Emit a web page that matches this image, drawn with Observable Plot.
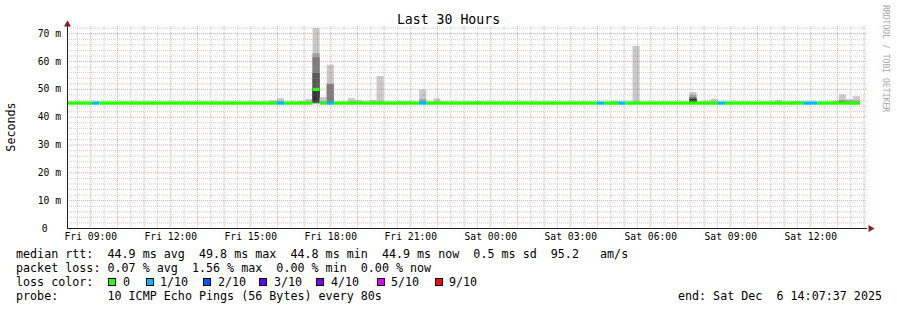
<!DOCTYPE html>
<html>
<head>
<meta charset="utf-8">
<script src="https://cdn.jsdelivr.net/npm/d3@7"></script>
<script src="https://cdn.jsdelivr.net/npm/@observablehq/plot@0.6"></script>
<style>
  html, body { margin: 0; padding: 0; background: #fff; }
  #wrap { position: relative; width: 897px; height: 310px; overflow: hidden;
          font-family: "DejaVu Sans Mono", monospace; color: #000; }
  #chart { position: absolute; left: 0; top: 0; }
  .txt { position: absolute; white-space: pre; font-size: 11.7px; line-height: 14px; }
  #title { position: absolute; left: 0; width: 897px; top: 12px; text-align: center;
           font-size: 13.2px; line-height: 16px; white-space: pre; }
  #ylabel { position: absolute; left: 11px; top: 127px; font-size: 11.7px; line-height: 14px;
            white-space: nowrap; transform: translate(-50%, -50%) rotate(-90deg); }
  #mark { position: absolute; left: 881px; top: 5px; writing-mode: vertical-rl;
          font-size: 8.1px; line-height: 10px; color: #a8a8a8; white-space: nowrap; }
  .box { position: absolute; width: 8px; height: 8px; box-sizing: border-box; border: 1px solid #000; }
</style>
</head>
<body>
<div id="wrap"></div>
<script>
// ---- time window (local chart time written as UTC) ----
const startTime = new Date("2025-12-05T08:07:37Z");
const endTime   = new Date("2025-12-06T14:07:37Z");
const bucketMinutes = 16;
const yTop = 72.6;

// ---- median rtt, as runs of 16-minute buckets: [from, to, median ms, lost pings of 10] ----
const medianSegments = [
  ["2025-12-05T08:00Z", "2025-12-05T09:04Z", 44.9, 0],
  ["2025-12-05T09:04Z", "2025-12-05T09:20Z", 44.9, 1],
  ["2025-12-05T09:20Z", "2025-12-05T16:00Z", 44.9, 0],
  ["2025-12-05T16:00Z", "2025-12-05T16:16Z", 44.9, 1],
  ["2025-12-05T16:16Z", "2025-12-05T17:20Z", 44.9, 0],
  ["2025-12-05T17:20Z", "2025-12-05T17:36Z", 49.8, 0],
  ["2025-12-05T17:36Z", "2025-12-05T17:52Z", 44.9, 0],
  ["2025-12-05T17:52Z", "2025-12-05T18:08Z", 44.9, 1],
  ["2025-12-05T18:08Z", "2025-12-05T21:20Z", 44.9, 0],
  ["2025-12-05T21:20Z", "2025-12-05T21:36Z", 44.9, 1],
  ["2025-12-05T21:36Z", "2025-12-06T04:00Z", 44.9, 0],
  ["2025-12-06T04:00Z", "2025-12-06T04:16Z", 44.9, 1],
  ["2025-12-06T04:16Z", "2025-12-06T04:48Z", 44.9, 0],
  ["2025-12-06T04:48Z", "2025-12-06T05:04Z", 44.9, 1],
  ["2025-12-06T05:04Z", "2025-12-06T08:32Z", 44.9, 0],
  ["2025-12-06T08:32Z", "2025-12-06T08:48Z", 44.9, 1],
  ["2025-12-06T08:48Z", "2025-12-06T11:44Z", 44.9, 0],
  ["2025-12-06T11:44Z", "2025-12-06T12:16Z", 44.9, 1],
  ["2025-12-06T12:16Z", "2025-12-06T13:52Z", 44.9, 0]
];

// ---- smoke: bucket start and the ten sorted ping times (ms) ----
const smokeBuckets = [
  ["2025-12-05T15:44Z", [44.5, 44.7, 44.8, 44.8, 44.9, 44.9, 45.0, 45.1, 45.3, 45.9]],
  ["2025-12-05T16:00Z", [44.5, 44.7, 44.8, 44.9, 44.9, 45.0, 45.1, 45.2, 45.4, 46.7]],
  ["2025-12-05T16:48Z", [44.5, 44.7, 44.8, 44.8, 44.9, 44.9, 45.0, 45.1, 45.2, 45.6]],
  ["2025-12-05T17:04Z", [44.5, 44.7, 44.8, 44.8, 44.9, 44.9, 45.0, 45.1, 45.3, 46.4]],
  ["2025-12-05T17:20Z", [44.6, 44.8, 44.9, 45.0, 45.4, 50.3, 55.7, 61.4, 62.8, 71.9]],
  ["2025-12-05T17:36Z", [44.5, 44.7, 44.8, 44.9, 44.9, 45.0, 45.1, 45.2, 45.4, 47.1]],
  ["2025-12-05T17:52Z", [44.6, 44.8, 44.9, 45.0, 45.1, 45.2, 45.3, 51.8, 51.8, 58.7]],
  ["2025-12-05T18:40Z", [44.5, 44.7, 44.8, 44.9, 44.9, 45.0, 45.1, 45.2, 45.4, 46.7]],
  ["2025-12-05T18:56Z", [44.5, 44.7, 44.8, 44.8, 44.9, 44.9, 45.0, 45.1, 45.3, 46.0]],
  ["2025-12-05T19:28Z", [44.5, 44.7, 44.8, 44.8, 44.9, 44.9, 45.0, 45.1, 45.3, 46.0]],
  ["2025-12-05T19:44Z", [44.5, 44.7, 44.8, 44.9, 44.9, 45.0, 45.1, 45.2, 45.4, 54.7]],
  ["2025-12-05T20:32Z", [44.5, 44.7, 44.8, 44.8, 44.9, 44.9, 45.0, 45.1, 45.2, 45.6]],
  ["2025-12-05T20:48Z", [44.5, 44.7, 44.8, 44.8, 44.9, 44.9, 45.0, 45.1, 45.2, 45.6]],
  ["2025-12-05T21:20Z", [44.6, 44.8, 44.9, 45.0, 45.1, 45.2, 45.3, 45.4, 46.4, 49.8]],
  ["2025-12-05T21:52Z", [44.5, 44.7, 44.8, 44.9, 44.9, 45.0, 45.1, 45.2, 45.4, 46.6]],
  ["2025-12-05T23:28Z", [44.5, 44.7, 44.8, 44.8, 44.9, 44.9, 45.0, 45.1, 45.2, 45.6]],
  ["2025-12-06T04:32Z", [44.5, 44.7, 44.8, 44.8, 44.9, 44.9, 45.0, 45.1, 45.2, 45.7]],
  ["2025-12-06T05:20Z", [44.5, 44.7, 44.8, 44.9, 44.9, 45.0, 45.1, 45.2, 45.4, 65.4]],
  ["2025-12-06T07:28Z", [44.6, 44.8, 44.9, 45.0, 45.4, 46.3, 46.6, 47.1, 47.9, 48.9]],
  ["2025-12-06T08:00Z", [44.5, 44.7, 44.8, 44.8, 44.9, 44.9, 45.0, 45.1, 45.3, 45.8]],
  ["2025-12-06T08:16Z", [44.5, 44.7, 44.8, 44.8, 44.9, 44.9, 45.0, 45.1, 45.3, 46.4]],
  ["2025-12-06T10:40Z", [44.5, 44.7, 44.8, 44.8, 44.9, 44.9, 45.0, 45.1, 45.3, 46.0]],
  ["2025-12-06T11:12Z", [44.5, 44.7, 44.8, 44.8, 44.9, 44.9, 45.0, 45.1, 45.2, 45.6]],
  ["2025-12-06T11:28Z", [44.5, 44.7, 44.8, 44.8, 44.9, 44.9, 45.0, 45.1, 45.2, 45.6]],
  ["2025-12-06T12:48Z", [44.5, 44.7, 44.8, 44.8, 44.9, 44.9, 45.0, 45.1, 45.3, 45.8]],
  ["2025-12-06T13:04Z", [44.6, 44.8, 44.9, 45.0, 45.2, 45.3, 45.5, 45.6, 46.0, 48.0]],
  ["2025-12-06T13:20Z", [44.5, 44.7, 44.8, 44.8, 44.9, 45.0, 45.1, 45.2, 45.9, 46.4]],
  ["2025-12-06T13:36Z", [44.5, 44.7, 44.8, 44.8, 44.9, 45.0, 45.1, 45.2, 45.8, 47.4]]
];

// ---- colours ----
const lossColors = {0: "#26ff00", 1: "#00b8ff", 2: "#0059ff", 3: "#5e00ff", 4: "#7e00ff", 5: "#dd00ff", 9: "#ff0000"};
const smokeShades = ["#cacaca", "#a4a4a4", "#7e7e7e", "#585858", "#323232"];
const lossLegend = [[0, "0"], [1, "1/10"], [2, "2/10"], [3, "3/10"], [4, "4/10"], [5, "5/10"], [9, "9/10"]];

// ---- text ----
const chartTitle = "Last 30 Hours";
const yAxisTitle = "Seconds";
const yTicks = [10, 20, 30, 40, 50, 60, 70];
const rttStats = ["44.9 ms avg", "49.8 ms max", "44.8 ms min", "44.9 ms now", "0.5 ms sd", "95.2   am/s"];
const lossStats = ["0.07 % avg", "1.56 % max", "0.00 % min", "0.00 % now"];
const probeText = "10 ICMP Echo Pings (56 Bytes) every 80s";
const endText = "end: Sat Dec  6 14:07:37 2025";
const watermark = "RRDTOOL / TOBI OETIKER";

// ---- derived tables ----
const medianHalf = 0.6;
const medianRects = medianSegments.map(([a, b, m, l]) => ({
  x1: new Date(a), x2: new Date(b), y1: m - medianHalf, y2: m + medianHalf, fill: lossColors[l]
}));
const smokeRects = [];
for (const [t, p] of smokeBuckets) {
  const x1 = new Date(t), x2 = new Date(+x1 + bucketMinutes * 60000);
  for (let i = 0; i < 5; i++) smokeRects.push({x1, x2, y1: p[i], y2: p[9 - i], fill: smokeShades[i]});
}
const majorY = [10, 20, 30, 40, 50, 60, 70];
const minorY = d3.range(2, yTop, 2).filter(v => v % 10 !== 0);
const majorX = d3.utcHour.range(startTime, endTime);
const minorX = d3.utcMinute.every(30).range(startTime, endTime).filter(d => d.getUTCMinutes() === 30);
const xTicks = d3.utcHour.every(3).range(startTime, endTime);

const gridGray = "rgba(143,143,143,0.45)", gridRed = "rgba(222,79,79,0.5)";
const axisColor = "#1f1f1f", arrowColor = "#7f1f1f";

const plot = Plot.plot({
  width: 897, height: 245,
  marginTop: 26, marginBottom: 17, marginLeft: 67, marginRight: 30,
  style: {fontFamily: "'DejaVu Sans Mono', monospace", fontSize: "9.7px", color: "#000", background: "transparent", overflow: "visible"},
  x: {type: "utc", domain: [startTime, endTime]},
  y: {domain: [0, yTop]},
  color: {type: "identity"},
  marks: [
    Plot.rect(smokeRects, {x1: "x1", x2: "x2", y1: "y1", y2: "y2", fill: "fill", clip: true}),
    Plot.ruleY(minorY, {stroke: gridGray, strokeDasharray: "1,1"}),
    Plot.ruleX(minorX, {stroke: gridGray, strokeDasharray: "1,1"}),
    Plot.ruleY(majorY, {stroke: gridRed, strokeDasharray: "1,1"}),
    Plot.ruleX(majorX, {stroke: gridRed, strokeDasharray: "1,1"}),
    Plot.rect(medianRects, {x1: "x1", x2: "x2", y1: "y1", y2: "y2", fill: "fill", clip: true}),
    Plot.ruleX([startTime], {stroke: axisColor}),
    Plot.ruleY([0], {stroke: axisColor}),
    Plot.dot([[startTime, yTop]], {x: d => d[0], y: d => d[1], symbol: "triangle", r: 2.6, fill: arrowColor, stroke: null, dy: -2}),
    Plot.dot([[endTime, 0]], {x: d => d[0], y: d => d[1], symbol: "triangle", r: 2.6, fill: arrowColor, stroke: null, rotate: 90, dx: 3}),
    Plot.axisY(yTicks, {tickSize: 0, tickPadding: 6.5, tickFormat: d => `${d} m`, label: null}),
    Plot.axisY([0], {tickSize: 0, tickPadding: 20, tickFormat: d => `${d}`, label: null}),
    Plot.axisX(xTicks, {tickSize: 0, tickPadding: 5, tickFormat: d3.utcFormat("%a %H:%M"), label: null})
  ]
});
plot.id = "chart";

const wrap = document.getElementById("wrap");
wrap.appendChild(plot);

function addDiv(cls, id, text, left, top) {
  const d = document.createElement("div");
  if (cls) d.className = cls;
  if (id) d.id = id;
  d.textContent = text;
  if (left != null) d.style.left = left + "px";
  if (top != null) d.style.top = top + "px";
  wrap.appendChild(d);
  return d;
}
addDiv(null, "title", chartTitle);
addDiv(null, "ylabel", yAxisTitle);
addDiv(null, "mark", watermark);
addDiv("txt", null, "median rtt:  " + rttStats.join("  "), 16, 247);
addDiv("txt", null, "packet loss: " + lossStats.join("  "), 16, 261);
addDiv("txt", null, "loss color:", 16, 275);
addDiv("txt", null, "probe:       " + probeText, 16, 289);
const endDiv = addDiv("txt", null, endText, null, 289);
endDiv.style.right = (897 - 882) + "px";

const boxX = [108, 146, 203, 259, 316, 377, 435];
const labX = [123, 160, 218, 274, 331, 391, 449];
lossLegend.forEach(([l, label], i) => {
  const b = document.createElement("div");
  b.className = "box";
  b.style.left = boxX[i] + "px";
  b.style.top = "278px";
  b.style.background = lossColors[l];
  wrap.appendChild(b);
  addDiv("txt", null, label, labX[i], 275);
});
</script>
</body>
</html>
